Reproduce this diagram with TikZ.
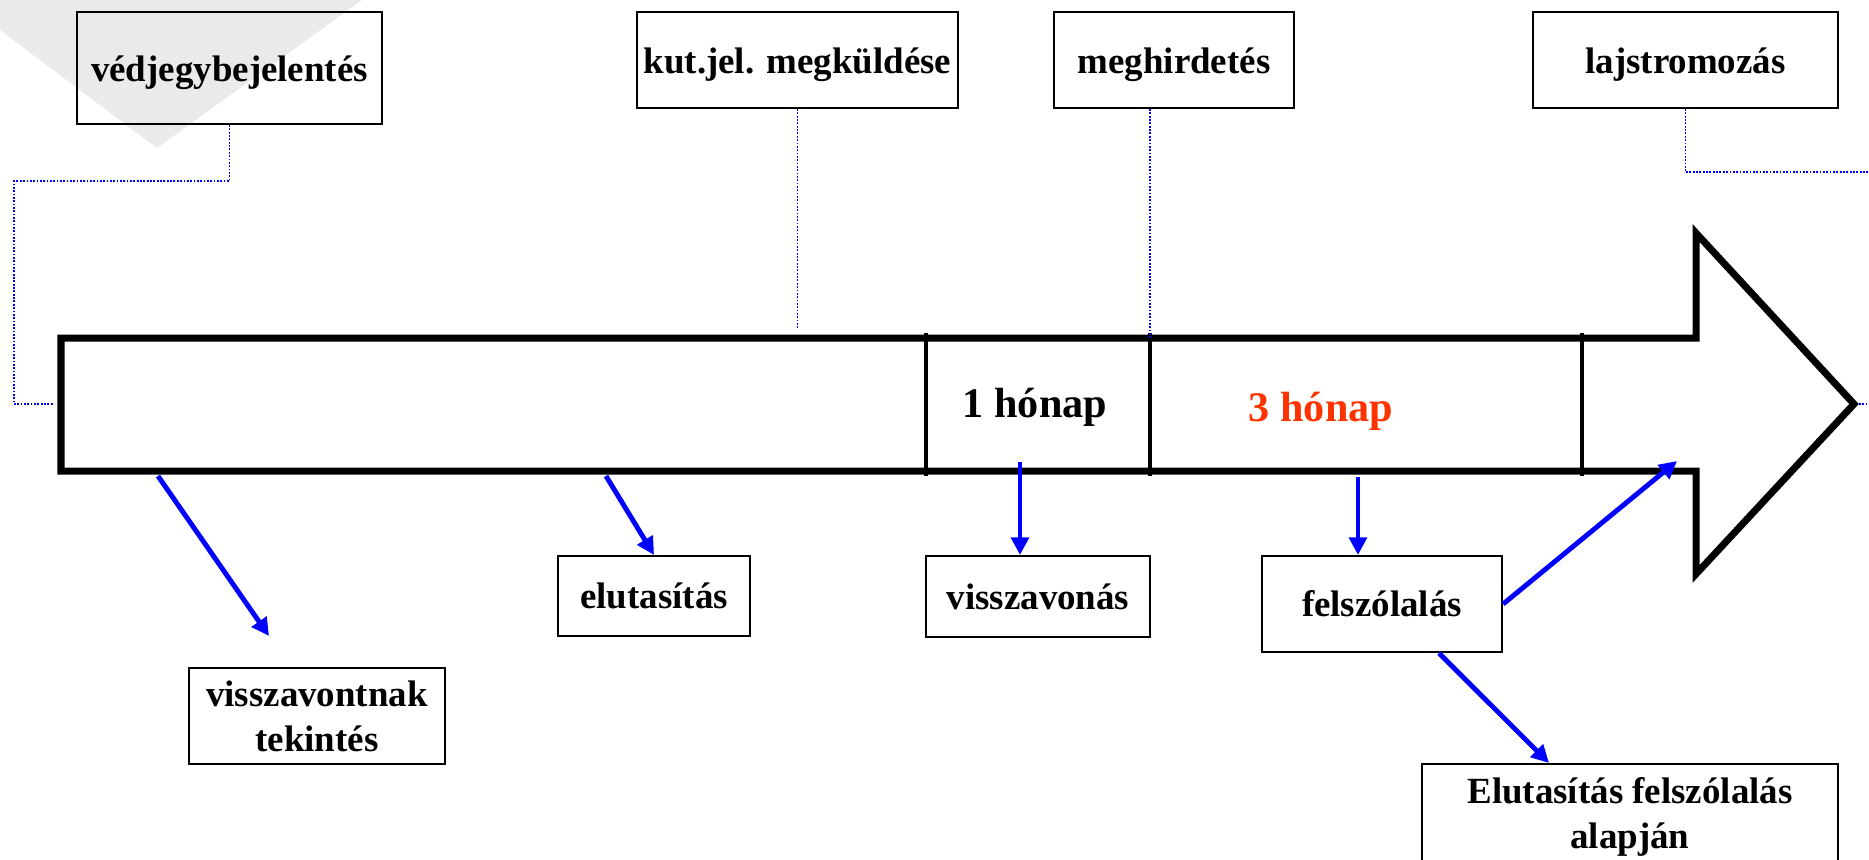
\documentclass[tikz,border=0pt]{standalone}
\usepackage{fontspec}
\setmainfont{Liberation Serif}
\usetikzlibrary{arrows.meta}
\definecolor{wmark}{RGB}{233,235,235}
\definecolor{honapred}{RGB}{255,51,0}

\begin{document}
\begin{tikzpicture}[x=0.01cm,y=-0.01cm,
		tbox/.style={draw,line width=0.6pt,align=center,inner sep=2pt,
			font=\fontsize{10.5}{12.8}\selectfont\bfseries},
		topbox/.style={tbox,text height=1.0em,text depth=0.22em},
		dotline/.style={blue,line width=0.5pt,dash pattern=on 0.5pt off 0.45pt},
		blarrow/.style={blue,line width=1.4pt,-{Triangle[length=5pt,width=5pt]}},
		honap/.style={font=\fontsize{12}{14}\selectfont\bfseries}]
		\useasboundingbox (0,0) rectangle (1869,859);
		
		% faint grey shape of the slide template
		\fill[wmark] (0,0) -- (362,0) -- (157,148) -- (0,30) -- cycle;
		
		% the big time arrow
		\draw[line width=2pt,miter limit=10] (61,338) -- (1696,338) -- (1696,233) -- (1854,404)
			-- (1696,574) -- (1696,471) -- (61,471) -- cycle;
		\coordinate (tip) at (1859,404);
		\coordinate (bodyW) at (54,404);
		
		% dividers of the time arrow
		\foreach \dx/\dn in {926/d1,1150/d2,1582/d3} {
			\coordinate (\dn) at (\dx,338);
			\draw[line width=1.4pt] (\dx,333) -- (\dx,476);
		}
		
		\node[honap] (egy) at (1035,407) {1 hónap};
		\node[honap,text=honapred] (harom) at (1321,411) {3 hónap};
		
		% boxes above the arrow
		\node[topbox,minimum width=3.05cm,minimum height=1.12cm] (vedj) at (229.5,68) {védjegybejelentés};
		\node[topbox,minimum width=3.21cm,minimum height=0.96cm] (kutjel) at (797.5,60) {kut.jel. megküldése};
		\node[topbox,minimum width=2.40cm,minimum height=0.96cm] (meghird) at (1174,60) {meghirdetés};
		\node[topbox,minimum width=3.05cm,minimum height=0.96cm] (lajstr) at (1685.5,60) {lajstromozás};
		
		% boxes below the arrow
		\node[tbox,minimum width=2.56cm,minimum height=0.96cm] (visszat) at (317,716) {visszavontnak\\tekintés};
		\node[tbox,minimum width=1.92cm,minimum height=0.80cm] (elut) at (654,596) {elutasítás};
		\node[tbox,minimum width=2.24cm,minimum height=0.81cm] (visszav) at (1038,596.5) {visszavonás};
		\node[tbox,minimum width=2.40cm,minimum height=0.96cm] (felsz) at (1382,604) {felszólalás};
		\node[tbox,minimum width=4.16cm,minimum height=1.06cm] (elutf) at (1630,817) {Elutasítás felszólalás\\alapján};
		
		% dotted blue leaders
		\coordinate (k1) at (797.5,328);
		\coordinate (lr) at (1875,172);
		\coordinate (tr) at (1875,404);
		\draw[dotline] (vedj.south) -- ++(0,56) -| (14,404) -- (bodyW);
		\draw[dotline] (kutjel.south) -- (k1);
		\draw[dotline] (meghird.south -| d2) -- (d2);
		\draw[dotline] (lajstr.south) |- (lr);
		\draw[dotline] (tip) -- (tr);
		
		% blue arrows
		\coordinate (a1s) at (158,476);
		\coordinate (a1e) at (269,636);
		\coordinate (a2s) at (606,476);
		\coordinate (a3s) at (1020,462);
		\coordinate (a4s) at (1358,477);
		\coordinate (a5e) at (1677,461);
		\draw[blarrow] (a1s) -- (a1e);
		\draw[blarrow] (a2s) -- (elut.north);
		\draw[blarrow] (a3s) -- (a3s |- visszav.north);
		\draw[blarrow] (a4s) -- (a4s |- felsz.north);
		\draw[blarrow] (felsz.east) -- (a5e);
		\draw[blarrow] ([xshift=5.7mm]felsz.south) -- ([xshift=-8.1mm]elutf.north);
\end{tikzpicture}
\end{document}
